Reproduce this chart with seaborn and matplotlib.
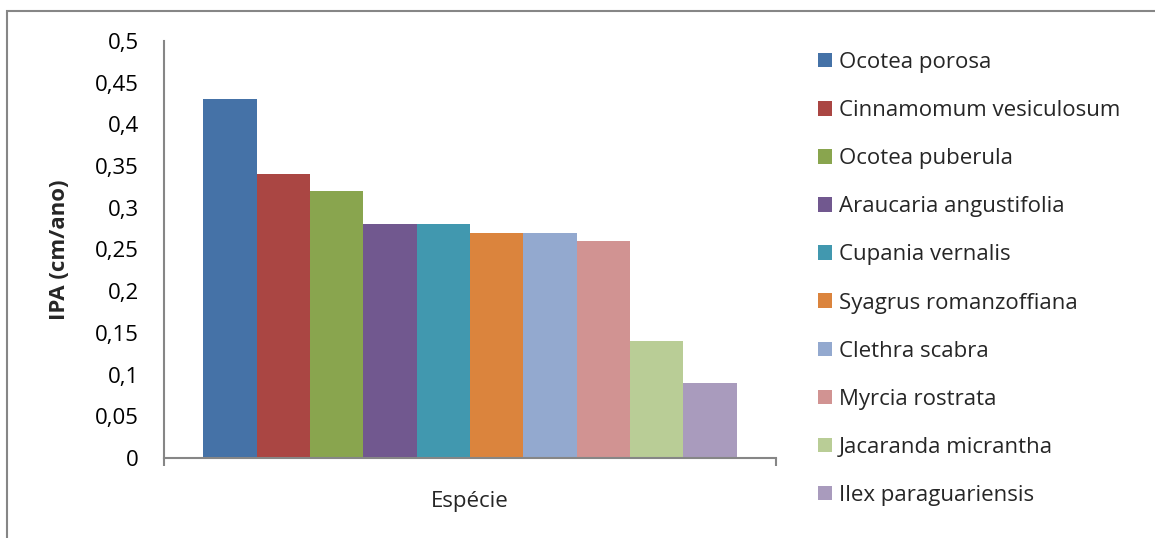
import pandas as pd
import matplotlib.pyplot as plt
import seaborn as sns
from matplotlib.patches import Rectangle

# Dados do gráfico
especies = ["Ocotea porosa", "Cinnamomum vesiculosum", "Ocotea puberula",
            "Araucaria angustifolia", "Cupania vernalis", "Syagrus romanzoffiana",
            "Clethra scabra", "Myrcia rostrata", "Jacaranda micrantha",
            "Ilex paraguariensis"]
ipa = [0.43, 0.34, 0.32, 0.28, 0.28, 0.27, 0.27, 0.26, 0.14, 0.09]
cores = ["#4572A7", "#AA4643", "#89A54E", "#71588F", "#4198AF",
         "#DB843D", "#93A9CF", "#D19392", "#B9CD96", "#A99BBD"]
yticks = [0, 0.05, 0.1, 0.15, 0.2, 0.25, 0.3, 0.35, 0.4, 0.45, 0.5]
ytick_labels = ["0", "0,05", "0,1", "0,15", "0,2", "0,25", "0,3", "0,35", "0,4", "0,45", "0,5"]

df = pd.DataFrame({"grupo": ["g"] * len(especies), "especie": especies, "ipa": ipa})

sns.set_style("white")
plt.rcParams['font.family'] = ['Open Sans', 'DejaVu Sans']
fs = 16

fig = plt.figure(figsize=(11.55, 5.38), dpi=100)
ax = fig.add_axes([164 / 1155, 80 / 538, 612 / 1155, 417 / 538])

sns.barplot(data=df, x="grupo", y="ipa", hue="especie", hue_order=especies,
            palette=cores, width=0.871, saturation=1, linewidth=0, ax=ax, legend=True)

ax.set_xlim(-0.5, 0.5)
ax.set_ylim(0, 0.5)
ax.set_yticks(yticks)
ax.set_yticklabels(ytick_labels)
ax.set_xticks([-0.5, 0.5])
ax.set_xticklabels(["", ""])

gray = "#868686"
for s in ["top", "right"]:
    ax.spines[s].set_visible(False)
for s in ["left", "bottom"]:
    ax.spines[s].set_color(gray)
    ax.spines[s].set_linewidth(1.5)
ax.tick_params(axis="both", direction="out", length=6, width=1.5, color=gray,
               labelsize=fs, labelcolor="black")
ax.tick_params(axis="y", pad=12)
ax.tick_params(axis="x", bottom=True)

ax.set_xlabel("Espécie", fontsize=fs, labelpad=14)
ax.set_ylabel("IPA (cm/ano)", fontsize=fs, fontweight="bold", labelpad=18)

handles, labels = ax.get_legend_handles_labels()
ax.legend(handles, labels, loc="upper left", bbox_to_anchor=(818 / 1155, 1 - 52 / 538),
          bbox_transform=fig.transFigure, frameon=False, fontsize=fs,
          handlelength=0.63, handleheight=0.63, handletextpad=0.3,
          labelspacing=1.22, borderpad=0, borderaxespad=0)

# moldura externa do gráfico
fig.patches.append(Rectangle((7 / 1155, -0.05), 1.1, 1 - 11 / 538 + 0.05,
                             transform=fig.transFigure, fill=False,
                             edgecolor=gray, linewidth=1.5, clip_on=False))

plt.savefig("out.png", dpi=100)
